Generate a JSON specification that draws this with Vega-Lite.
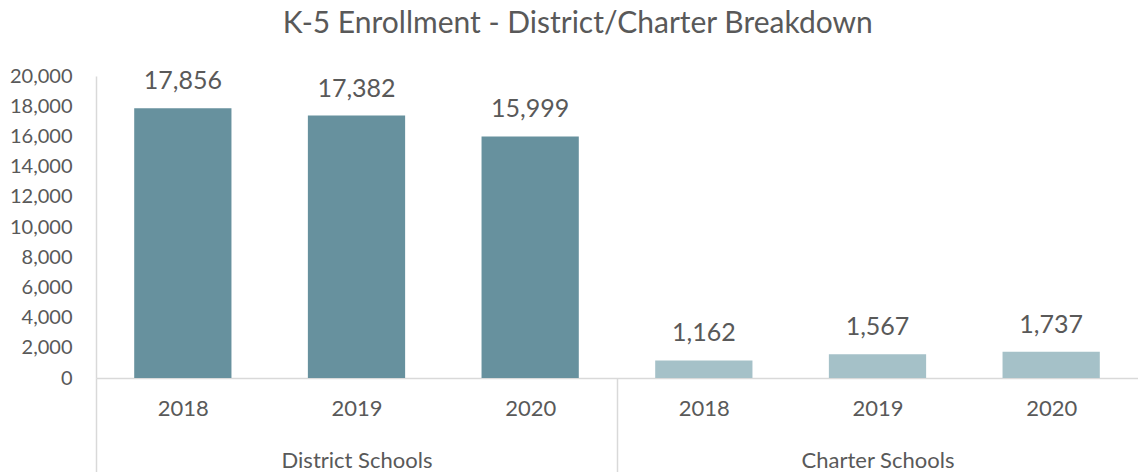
{
  "$schema": "https://vega.github.io/schema/vega-lite/v6.json",
  "autosize": {"type": "none"},
  "width": 1042,
  "height": 302,
  "padding": {"left": 96, "top": 76, "right": 0, "bottom": 94},
  "background": "white",
  "config": {
    "view": {"stroke": null},
    "font": "Lato",
    "axis": {"grid": false, "labelFont": "Lato", "labelColor": "#595959", "domainColor": "#D9D9D9", "domainWidth": 1.5}
  },
  "title": {
    "text": "K-5 Enrollment - District/Charter Breakdown",
    "font": "Lato",
    "fontSize": 30,
    "fontWeight": "normal",
    "color": "#595959",
    "anchor": "middle",
    "frame": "bounds",
    "offset": 27,
    "dx": 4
  },
  "data": {
    "values": [
      {"key": "District Schools|2018", "group": "District Schools", "year": "2018", "enrollment": 17856},
      {"key": "District Schools|2019", "group": "District Schools", "year": "2019", "enrollment": 17382},
      {"key": "District Schools|2020", "group": "District Schools", "year": "2020", "enrollment": 15999},
      {"key": "Charter Schools|2018", "group": "Charter Schools", "year": "2018", "enrollment": 1162},
      {"key": "Charter Schools|2019", "group": "Charter Schools", "year": "2019", "enrollment": 1567},
      {"key": "Charter Schools|2020", "group": "Charter Schools", "year": "2020", "enrollment": 1737}
    ]
  },
  "encoding": {
    "x": {
      "field": "key",
      "type": "nominal",
      "sort": null,
      "scale": {"paddingInner": 0, "paddingOuter": 0},
      "axis": {
        "title": null,
        "labelAngle": 0,
        "labelFontSize": 22,
        "labelBaseline": "top",
        "labelLineHeight": 52,
        "labelPadding": -75,
        "tickBand": "extent",
        "tickSize": 95,
        "tickWidth": 1.5,
        "tickColor": "#D9D9D9",
        "tickOpacity": {"condition": {"test": "!isValid(datum.value) || datum.value === 'District Schools|2020'", "value": 1}, "value": 0},
        "labelExpr": "split(datum.value, '|')[1] === '2019' ? [split(datum.value, '|')[1], split(datum.value, '|')[0]] : split(datum.value, '|')[1]"
      }
    },
    "y": {
      "field": "enrollment",
      "type": "quantitative",
      "scale": {"domain": [0, 20000], "nice": false},
      "axis": {
        "title": null,
        "values": [0, 2000, 4000, 6000, 8000, 10000, 12000, 14000, 16000, 18000, 20000],
        "format": ",d",
        "ticks": false,
        "labelFontSize": 20,
        "labelPadding": 24
      }
    }
  },
  "layer": [
    {
      "mark": {"type": "bar", "width": {"band": 0.56}},
      "encoding": {
        "color": {
          "field": "group",
          "type": "nominal",
          "scale": {"domain": ["District Schools", "Charter Schools"], "range": ["#67919E", "#A5C1C8"]},
          "legend": null
        }
      }
    },
    {
      "mark": {"type": "text", "baseline": "alphabetic", "dy": -19, "fontSize": 25, "color": "#595959", "font": "Lato"},
      "encoding": {
        "text": {"field": "enrollment", "type": "quantitative", "format": ",d"}
      }
    }
  ]
}
